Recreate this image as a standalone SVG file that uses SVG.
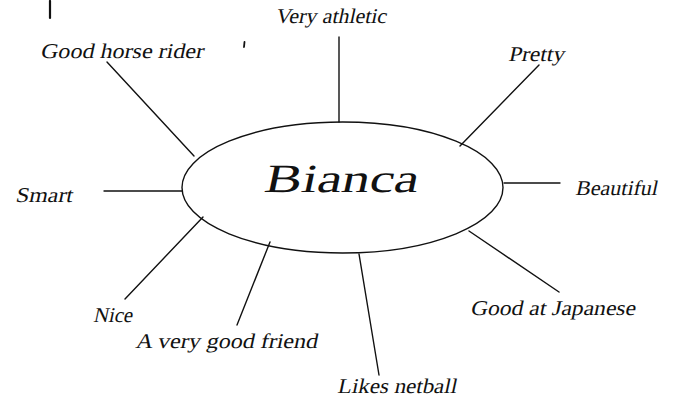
<svg xmlns="http://www.w3.org/2000/svg" width="676" height="407" viewBox="0 0 676 407">
<style>
.lbl{font-family:'Liberation Serif','Tinos','Nimbus Roman','Nimbus Roman No9 L','FreeSerif','DejaVu Serif','Noto Serif','Times New Roman',Times,serif;font-style:normal;font-size:21px;fill:#111}
.big{font-size:40px}
.ln{stroke:#111;stroke-width:1.4;fill:none;stroke-linecap:round}
</style>
<rect width="676" height="407" fill="#fff"/>
<g id="marks">
<line class="ln" x1="50" y1="1" x2="50" y2="18" style="stroke-width:2.2"/>
<line class="ln" x1="244.5" y1="42" x2="244" y2="47" style="stroke-width:1.8"/>
</g>
<g id="connectors">
<line class="ln" x1="339" y1="37" x2="339" y2="122"/>
<line class="ln" x1="107" y1="62" x2="194" y2="156"/>
<line class="ln" x1="104" y1="191" x2="182" y2="191"/>
<line class="ln" x1="539" y1="65" x2="460" y2="146"/>
<line class="ln" x1="504" y1="183" x2="560" y2="183"/>
<line class="ln" x1="203" y1="217" x2="125" y2="299"/>
<line class="ln" x1="270" y1="242" x2="237" y2="325"/>
<line class="ln" x1="359" y1="254" x2="379" y2="375"/>
<line class="ln" x1="469" y1="231" x2="559" y2="292"/>
</g>
<g id="bianca">
<ellipse class="ln" cx="342.5" cy="187.5" rx="160.5" ry="65.5"/>
<g transform="translate(263,192) skewX(-12)"><text class="lbl big" textLength="154" lengthAdjust="spacingAndGlyphs">Bianca</text></g>
</g>
<g id="very-athletic" transform="translate(275,23) skewX(-12)"><text class="lbl" textLength="111" lengthAdjust="spacingAndGlyphs">Very athletic</text></g>
<g id="good-horse-rider" transform="translate(40,58) skewX(-12)"><text class="lbl" textLength="163" lengthAdjust="spacingAndGlyphs">Good horse rider</text></g>
<g id="smart" transform="translate(15,202) skewX(-12)"><text class="lbl" textLength="57" lengthAdjust="spacingAndGlyphs">Smart</text></g>
<g id="pretty" transform="translate(508,61) skewX(-12)"><text class="lbl" textLength="56" lengthAdjust="spacingAndGlyphs">Pretty</text></g>
<g id="beautiful" transform="translate(575,195) skewX(-12)"><text class="lbl" textLength="82" lengthAdjust="spacingAndGlyphs">Beautiful</text></g>
<g id="nice" transform="translate(93,322) skewX(-12)"><text class="lbl" textLength="39" lengthAdjust="spacingAndGlyphs">Nice</text></g>
<g id="a-very-good-friend" transform="translate(135,348) skewX(-12)"><text class="lbl" textLength="182" lengthAdjust="spacingAndGlyphs">A very good friend</text></g>
<g id="likes-netball" transform="translate(337,393) skewX(-12)"><text class="lbl" textLength="119" lengthAdjust="spacingAndGlyphs">Likes netball</text></g>
<g id="good-at-japanese" transform="translate(470,315) skewX(-12)"><text class="lbl" textLength="165" lengthAdjust="spacingAndGlyphs">Good at Japanese</text></g>
</svg>
